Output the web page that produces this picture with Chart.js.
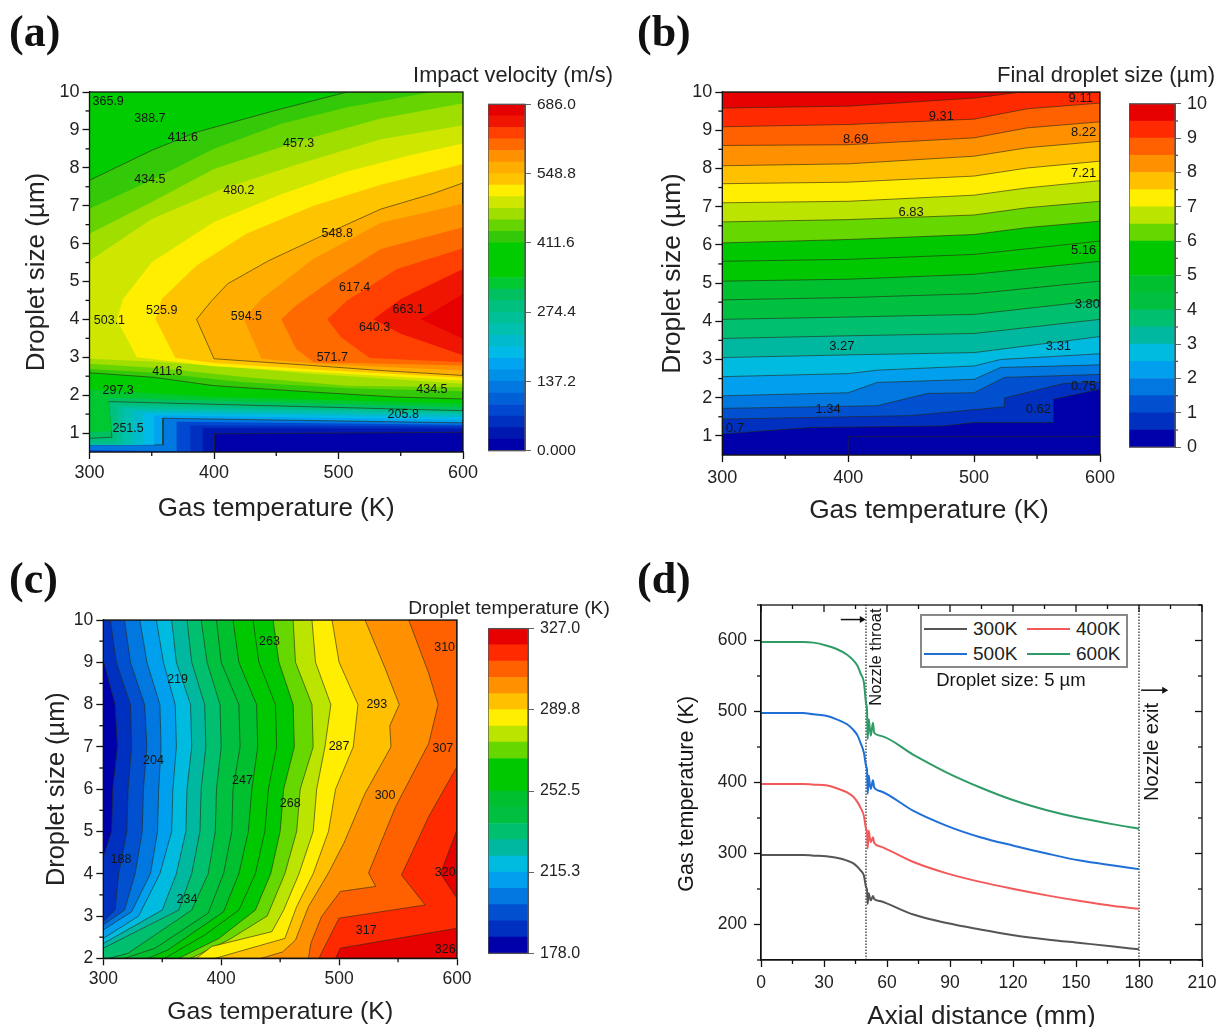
<!DOCTYPE html>
<html>
<head>
<meta charset="utf-8">
<title>Droplet contour maps</title>
<script src="https://cdn.jsdelivr.net/npm/chart.js@4"></script>
<style>
  html, body { margin: 0; background: #fff; overflow: hidden; }
  #page { position: relative; width: 1227px; height: 1027px; overflow: hidden; filter: blur(0.7px); font-family: "Liberation Sans", sans-serif; color: #222; }
  canvas { position: absolute; }
  .tag { position: absolute; font: bold 44px "Liberation Serif", serif; color: #111; line-height: 44px; }
  .cbtitle { position: absolute; white-space: nowrap; transform: translateX(-50%); }
  #legend { position: absolute; left: 920px; top: 614px; width: 204px; height: 50px; border: 2px solid #888; background: #fff;
    display: grid; grid-template-columns: 103px 101px; font-size: 19px; z-index: 2; }
  #legend div { display: flex; align-items: center; gap: 6px; padding-left: 2px; }
  #legend span.key { display: inline-block; width: 43px; height: 2px; }
</style>
</head>
<body>
<div id="page">
  <div class="tag" style="left:9px;top:10px">(a)</div>
  <div class="tag" style="left:637px;top:10px">(b)</div>
  <div class="tag" style="left:9px;top:557px">(c)</div>
  <div class="tag" style="left:637px;top:557px">(d)</div>
  <div class="cbtitle" style="left:513px;top:62px;font-size:21.8px">Impact velocity (m/s)</div>
  <div class="cbtitle" style="left:1106px;top:62px;font-size:22px">Final droplet size (µm)</div>
  <div class="cbtitle" style="left:509px;top:597px;font-size:19.2px">Droplet temperature (K)</div>
  <div class="cbtitle" style="left:929px;top:494px;font-size:26.3px">Gas temperature (K)</div>
  <div id="legend"></div>
</div>
<script>
const FONT = "'Liberation Sans', sans-serif";
const LINE_DARK = "rgba(40,40,20,0.6)";

// ---------- colour bands ----------

const rainbow30 = ["#0000aa", "#0018b0", "#0030c0", "#0048d0", "#0060d8", "#0078e0", "#0090e8", "#00a4f0", "#00bbe8", "#00bbcc",
  "#00c0b0", "#00c098", "#00c080", "#00c060", "#00c830", "#00cc00", "#00cc00", "#00cc00", "#33c808", "#66d400",
  "#a0de00", "#cfe600", "#ffee00", "#ffc400", "#ffae00", "#ff9000", "#ff6a00", "#ff4000", "#f01500", "#e60000"];

const rainbow20 = ["#0000aa", "#0030c0", "#0050d0", "#0078e0", "#00a0ee", "#00bbe0", "#00b8a0", "#00c070", "#00c040", "#00c030",
  "#00c800", "#00c800", "#66d800", "#bbe400", "#ffee00", "#ffc000", "#ff9000", "#ff6000", "#ff2a00", "#e60000"];

const impactLevels = [0, 22.87, 45.73, 68.6, 91.47, 114.3, 137.2, 160.1, 182.9, 205.8, 228.7, 251.5, 274.4, 297.3, 320.1, 343,
  365.9, 388.7, 411.6, 434.5, 457.3, 480.2, 503.1, 525.9, 548.8, 571.7, 594.5, 617.4, 640.3, 663.1, 686];
const sizeLevels = [0, 0.5, 1, 1.5, 2, 2.5, 3, 3.5, 4, 4.5, 5, 5.5, 6, 6.5, 7, 7.5, 8, 8.5, 9, 9.5, 10];
const tempLevels = [178, 185.5, 192.9, 200.4, 207.8, 215.3, 222.7, 230.2, 237.6, 245.1, 252.5, 260, 267.4, 274.9, 282.3, 289.8,
  297.2, 304.7, 312.1, 319.6, 327];

const impactBarTicks = [0, 137.2, 274.4, 411.6, 548.8, 686];
const impactBarLabels = ["0.000", "137.2", "274.4", "411.6", "548.8", "686.0"];
const sizeBarTicks = [0, 1, 2, 3, 4, 5, 6, 7, 8, 9, 10];
const sizeBarLabels = ["0", "1", "2", "3", "4", "5", "6", "7", "8", "9", "10"];
const tempBarTicks = [178, 215.3, 252.5, 289.8, 327];
const tempBarLabels = ["178.0", "215.3", "252.5", "289.8", "327.0"];

// ---------- (a) impact velocity: closed regions above a level ----------

const impactBandIdx = [0, 1, 2, 3, 5, 7, 8, 9, 10, 11, 12, 13, 14, 15, 18, 19, 20, 21, 22, 23, 24, 25, 26, 27, 28, 29];
const impactLined = [1, 7, 13, 18, 24];
const impactRegions = [
  [[300, 0.5], [600, 0.5], [600, 10], [300, 10]],
  [[600, 1.02], [400, 0.98], [400, 0.5], [300, 0.5], [300, 10], [600, 10]],
  [[600, 1.12], [391, 1.13], [391, 0.5], [300, 0.5], [300, 10], [600, 10]],
  [[600, 1.18], [381, 1.2], [381, 0.5], [300, 0.5], [300, 10], [600, 10]],
  [[600, 1.22], [370, 1.3], [370, 0.52], [300, 0.55], [300, 10], [600, 10]],
  [[600, 1.27], [359, 1.39], [359, 0.69], [300, 0.69], [300, 10], [600, 10]],
  [[600, 1.35], [352, 1.47], [352, 0.69], [300, 0.69], [300, 10], [600, 10]],
  [[600, 1.42], [343, 1.52], [343, 0.69], [300, 0.69], [300, 10], [600, 10]],
  [[600, 1.47], [335, 1.58], [335, 0.69], [300, 0.69], [300, 10], [600, 10]],
  [[600, 1.52], [327, 1.65], [327, 0.69], [300, 0.69], [300, 10], [600, 10]],
  [[600, 1.56], [322, 1.72], [322, 0.75], [300, 0.75], [300, 10], [600, 10]],
  [[600, 1.59], [315, 1.83], [318, 0.89], [300, 0.86], [300, 10], [600, 10]],
  [[600, 1.68], [315, 1.93], [318, 1.05], [300, 1.02], [300, 10], [600, 10]],
  [[600, 1.78], [400, 1.95], [300, 2.15], [300, 10], [600, 10]],
  [[300, 7.67], [350, 8.46], [386, 8.94], [450, 9.52], [507, 10], [600, 10], [600, 1.9], [547, 1.95], [480, 2.08], [400, 2.25], [352, 2.47], [300, 2.59]],
  [[300, 6.92], [350, 7.68], [400, 8.5], [454, 9.16], [507, 9.6], [575, 10], [600, 10], [600, 2.1], [507, 2.18], [424, 2.34], [353, 2.59], [300, 2.69]],
  [[300, 6.26], [350, 7.1], [400, 7.97], [468, 8.7], [534, 9.3], [600, 9.7], [600, 2.21], [507, 2.25], [424, 2.48], [358, 2.71], [300, 2.83]],
  [[300, 5.55], [350, 6.65], [407, 7.45], [468, 8.1], [534, 8.75], [600, 9.12], [600, 2.3], [480, 2.56], [400, 2.78], [350, 2.89], [300, 2.96]],
  [[322, 3.99], [327, 4.54], [350, 5.51], [400, 6.57], [454, 7.3], [507, 7.9], [560, 8.35], [600, 8.64], [600, 2.39], [480, 2.61], [400, 2.76], [338, 3.0]],
  [[353, 4.0], [358, 4.54], [386, 5.42], [426, 6.26], [480, 7.0], [534, 7.55], [600, 8.1], [600, 2.46], [480, 2.68], [400, 2.85], [369, 2.98]],
  [[386, 4.0], [397, 4.45], [411, 4.94], [444, 5.55], [487, 6.21], [534, 6.91], [576, 7.32], [600, 7.6], [600, 2.52], [534, 2.65], [480, 2.78], [400, 2.96]],
  [[424, 4.0], [438, 4.54], [480, 5.6], [534, 6.55], [600, 7.05], [600, 2.65], [485, 2.82], [438, 2.96]],
  [[454, 4.0], [466, 4.37], [496, 5.07], [534, 5.86], [600, 6.43], [600, 2.78], [480, 2.87], [466, 3.22]],
  [[491, 4.0], [507, 4.5], [547, 5.33], [600, 5.88], [600, 2.87], [525, 2.98], [502, 3.53]],
  [[528, 4.0], [550, 4.54], [600, 5.33], [600, 3.05], [550, 3.62]],
  [[566, 4.0], [600, 4.67], [600, 3.49]],
];
const impactLabels = [[315, 9.74, "365.9"], [348.5, 9.3, "388.7"], [375, 8.81, "411.6"], [468, 8.64, "457.3"], [348.5, 7.68, "434.5"],
  [420, 7.4, "480.2"], [499, 6.26, "548.8"], [513, 4.85, "617.4"], [556, 4.26, "663.1"], [358, 4.22, "525.9"], [426, 4.08, "594.5"],
  [316, 3.97, "503.1"], [529, 3.78, "640.3"], [495, 2.98, "571.7"], [362.5, 2.61, "411.6"], [575, 2.15, "434.5"], [323, 2.12, "297.3"],
  [552, 1.48, "205.8"], [331, 1.11, "251.5"]];

// ---------- (b) final droplet size: contour lines, band index 1..19 ----------

const sizeLines = [
  [[300, 1.05], [370, 1.22], [476, 1.26], [500, 1.35], [563, 1.35], [563, 1.96], [600, 2.22]],
  [[300, 1.44], [449, 1.53], [524, 1.76], [524, 1.99], [571, 2.37], [600, 2.4]],
  [[300, 1.72], [423, 1.79], [463, 2.11], [500, 2.13], [524, 2.53], [600, 2.61]],
  [[300, 2.05], [400, 2.13], [423, 2.4], [500, 2.48], [521, 2.79], [600, 2.86]],
  [[300, 2.55], [400, 2.63], [423, 2.72], [500, 2.83], [521, 3.0], [600, 3.15]],
  [[300, 3.05], [400, 3.12], [500, 3.18], [600, 3.6]],
  [[300, 3.55], [400, 3.62], [500, 3.68], [600, 4.05]],
  [[300, 4.05], [400, 4.11], [500, 4.18], [600, 4.55]],
  [[300, 4.56], [400, 4.62], [500, 4.72], [600, 5.05]],
  [[300, 5.05], [400, 5.1], [500, 5.23], [600, 5.57]],
  [[300, 5.57], [400, 5.62], [500, 5.75], [600, 6.1]],
  [[300, 6.05], [400, 6.14], [500, 6.27], [542, 6.45], [600, 6.62]],
  [[300, 6.6], [400, 6.66], [500, 6.78], [542, 6.97], [600, 7.14]],
  [[300, 7.1], [400, 7.14], [500, 7.3], [542, 7.49], [600, 7.68]],
  [[300, 7.6], [400, 7.64], [500, 7.8], [542, 8.01], [600, 8.19]],
  [[300, 8.07], [400, 8.12], [500, 8.32], [542, 8.54], [600, 8.71]],
  [[300, 8.6], [400, 8.62], [500, 8.8], [542, 9.06], [600, 9.22]],
  [[300, 9.09], [400, 9.15], [500, 9.29], [542, 9.56], [600, 9.71]],
  [[300, 9.58], [400, 9.63], [500, 9.84], [537, 10]],
];
const sizeInnerLine = [[400, 0.5], [400, 0.98], [600, 0.98]];
const sizeLabels = [[584.7, 9.83, "9.11"], [474, 9.36, "9.31"], [406, 8.77, "8.69"], [587, 8.93, "8.22"], [587, 7.88, "7.21"], [450, 6.84, "6.83"],
  [587, 5.85, "5.16"], [590, 4.44, "3.80"], [395, 3.35, "3.27"], [567, 3.33, "3.31"], [587, 2.29, "0.75"], [384, 1.7, "1.34"],
  [551, 1.68, "0.62"], [310, 1.2, "0.7"]];

// ---------- (c) droplet temperature: contour lines top to bottom, band index 1..19 ----------

const tempLines = [
  [[300, 9.05], [310, 8], [312, 7], [308, 6], [307, 5], [300, 4.4]],
  [[306, 10], [311, 9], [323, 8], [324, 7], [321, 6], [320, 5], [313, 4], [310, 3.14], [300, 2.87]],
  [[318, 10], [323, 9], [335, 8], [337, 7], [334, 6], [333, 5], [327, 4], [318, 3.14], [300, 2.79]],
  [[331, 10], [337, 9], [348, 8], [349, 7], [347, 6], [346, 5], [340, 4], [324, 3.1], [300, 2.67]],
  [[345, 10], [351, 9], [361, 8], [362, 7], [359, 6], [358, 5], [348, 4], [330, 3], [300, 2.47]],
  [[358, 10], [362, 9], [374, 8], [375, 7], [371, 6], [370, 5], [362, 4], [350, 3.14], [300, 2.35]],
  [[371, 10], [375, 9], [386, 8], [387, 7], [383, 6], [382, 5], [375, 4], [364, 3.14], [300, 2.24]],
  [[383, 10], [388, 9], [399, 8], [400, 7], [396, 6], [395, 5], [389, 4], [375, 3.14], [321, 2.12], [305, 2]],
  [[396, 10], [400, 9], [415, 8], [416, 7], [410, 6], [409, 5], [402, 4], [389, 3.07], [344, 2.24], [318, 2]],
  [[410, 10], [415, 9], [430, 8], [431, 7], [426, 6], [423, 5], [415, 4], [402, 3.1], [355, 2.2], [338, 2]],
  [[427, 10], [432, 9], [446, 8], [447, 7], [440, 6], [437, 5], [429, 4], [415, 3.14], [386, 2.55], [352, 2]],
  [[444, 10], [449, 9], [461, 8], [462, 7], [453, 6], [450, 5], [442, 4], [429, 3.14], [398, 2.47], [364, 2]],
  [[461, 10], [463, 9], [477, 8], [478, 7], [467, 6], [464, 5], [454, 4], [439, 3], [406, 2.43], [374, 2]],
  [[477, 10], [480, 9], [493, 8], [488, 7], [481, 6], [478, 5], [466, 4], [453, 3.14], [443, 2.63], [392, 2.28], [379, 2]],
  [[494, 10], [500, 9], [516, 8], [512, 7], [497, 6], [491, 5], [478, 4], [464, 3.22], [454, 2.47], [420, 2.2], [395, 2]],
  [[522, 10], [539, 8.86], [551, 8], [543, 7.5], [544, 7], [522, 5.9], [504, 4.72], [491, 4.02], [474, 3.22], [463, 2.43], [452, 2.15], [434, 2]],
  [[559, 10], [576, 8.74], [584, 8], [576, 7.08], [548, 5.59], [525, 4.02], [531, 3.7], [501, 3.58], [485, 2.98], [476, 2.35], [474, 2]],
  [[600, 6.53], [576, 5.35], [553, 3.97], [573, 3.26], [500, 2.95], [485, 2.12], [483, 2]],
  [[600, 5.04], [586, 4], [600, 3.42]],
];
const tempHotCorner = [[600, 2.71], [501, 2.24], [497, 2]];
const tempLabels = [[441, 9.49, "263"], [589.5, 9.35, "310"], [363, 8.6, "219"], [532, 7.99, "293"], [500, 7, "287"], [588, 6.97, "307"],
  [342.5, 6.67, "204"], [418, 6.2, "247"], [539, 5.86, "300"], [458.5, 5.67, "268"], [315, 4.34, "188"], [590, 4.03, "320"],
  [371, 3.4, "234"], [523, 2.65, "317"], [590, 2.21, "326"]];

// ---------- (d) gas temperature along the nozzle ----------

const axialMm = [0, 20, 25, 31, 36, 41, 44, 46, 47.5, 49, 50, 50.5, 50.8, 51.3, 51.8, 52.3, 53.3, 53.9, 56.7, 72.6, 88.5, 104.4, 120.3, 136.1, 152, 167.9, 180];
const gas300K = [298, 298, 297, 296, 294, 290, 286, 281, 276, 269, 253, 248, 229, 244, 238, 234, 240, 236, 233, 214, 202, 193, 185, 179, 174, 169, 165];
const gas400K = [398, 398, 397, 396, 392, 386, 380, 372, 364, 353, 335, 330, 307, 332, 322, 316, 323, 315, 310, 288, 272, 260, 250, 241, 233, 226, 222];
const gas500K = [498, 498, 496, 494, 489, 482, 474, 466, 455, 442, 424, 417, 384, 410, 398, 391, 403, 393, 388, 360, 339, 323, 311, 300, 290, 283, 278];
const gas600K = [598, 598, 597, 593, 588, 580, 572, 564, 553, 541, 512, 501, 461, 489, 477, 466, 484, 470, 466, 439, 414, 393, 375, 361, 350, 341, 335];
const seriesNames = ["300K", "400K", "500K", "600K"];
const seriesColors = ["#555555", "#f25a5a", "#1f6fd6", "#2f9c68"];

const tempAxisMajor = [300, 400, 500, 600];
const tempAxisMinor = [350, 450, 550];
const sizeAxisMajor = [1, 2, 3, 4, 5, 6, 7, 8, 9, 10];
const sizeAxisMinor = [0.5, 1.5, 2.5, 3.5, 4.5, 5.5, 6.5, 7.5, 8.5, 9.5];
const tempCMajor = [2, 3, 4, 5, 6, 7, 8, 9, 10];
const tempCMinor = [2.5, 3.5, 4.5, 5.5, 6.5, 7.5, 8.5, 9.5];
const axialMajor = [0, 30, 60, 90, 120, 150, 180, 210];
const axialMinor = [15, 45, 75, 105, 135, 165, 195];
const gasMajor = [200, 300, 400, 500, 600];
const gasMinor = [150, 250, 350, 450, 550, 650];

// ---------- plugins ----------

function framePlugin(minorX, minorY, mirror, color) {
  return {
    id: "frame",
    afterDatasetsDraw(chart) {
      const { ctx, chartArea: a, scales } = chart;
      ctx.save();
      ctx.strokeStyle = color || "#111";
      ctx.lineWidth = 1.3;
      ctx.strokeRect(a.left, a.top, a.right - a.left, a.bottom - a.top);
      const tick = (x1, y1, x2, y2) => { ctx.beginPath(); ctx.moveTo(x1, y1); ctx.lineTo(x2, y2); ctx.stroke(); };
      for (const v of minorX || []) {
        const x = scales.x.getPixelForValue(v);
        tick(x, a.bottom, x, a.bottom + 4);
        if (mirror) tick(x, a.top, x, a.top + 4);
      }
      const y2 = scales.y;
      for (const v of minorY || []) {
        const y = y2.getPixelForValue(v);
        if (y2.position === "left") tick(a.left, y, a.left - 4, y);
        else tick(a.right, y, a.right + 3, y);
        if (mirror) tick(a.right, y, a.right - 4, y);
      }
      if (mirror) {
        for (const t of scales.x.ticks) { const x = scales.x.getPixelForValue(t.value); tick(x, a.top, x, a.top + 7); }
        for (const t of y2.ticks) { const y = y2.getPixelForValue(t.value); tick(a.right, y, a.right - 7, y); }
      }
      ctx.restore();
    },
  };
}

// items: [x, y, text, size, rotated]
function textPlugin(items, size) {
  return {
    id: "onPlotText",
    afterDatasetsDraw(chart) {
      const { ctx, scales } = chart;
      ctx.save();
      ctx.textAlign = "center";
      ctx.textBaseline = "middle";
      ctx.fillStyle = "#151515";
      for (const [x, y, text, sz, rot] of items) {
        ctx.save();
        ctx.translate(scales.x.getPixelForValue(x), scales.y.getPixelForValue(y));
        if (rot) ctx.rotate(-Math.PI / 2);
        ctx.font = `${sz || size}px ${FONT}`;
        ctx.fillText(text, 0, 0);
        ctx.restore();
      }
      ctx.restore();
    },
  };
}

// ---------- builders ----------

function region(pts, color, lined) {
  return {
    data: [...pts, pts[0]],
    showLine: true,
    fill: "shape",
    backgroundColor: color,
    borderColor: lined ? LINE_DARK : "transparent",
    borderWidth: lined ? 1 : 0,
    pointRadius: 0,
    tension: 0,
  };
}

function axis(position, min, max, major, title, titleSize, tickSize, thickness, tickPad) {
  return {
    type: "linear",
    position,
    min,
    max,
    afterBuildTicks: (s) => { s.ticks = major.map((value) => ({ value })); },
    afterFit: (s) => { if (position === "bottom") s.height = thickness; else s.width = thickness; },
    ticks: { font: { size: tickSize, family: FONT }, color: "#222", padding: tickPad || 3, maxRotation: 0, autoSkip: false },
    grid: { drawOnChartArea: false, tickLength: 7, tickColor: "#111", tickWidth: 1.3 },
    border: { color: "#111", width: 1.3 },
    title: { display: !!title, text: title, font: { size: titleSize, family: FONT }, color: "#222", padding: 0 },
  };
}

function addCanvas(left, top, width, height) {
  const c = document.createElement("canvas");
  c.width = width;
  c.height = height;
  c.style.cssText = `left:${left}px;top:${top}px;width:${width}px;height:${height}px`;
  document.getElementById("page").appendChild(c);
  return c;
}

function plotChart(box, datasets, xAxis, yAxis, plugins) {
  const yw = box.L - box.canvasLeft;
  const xh = box.canvasBottom - box.B;
  const padTop = 20;
  const padRight = 25;
  const c = addCanvas(box.canvasLeft, box.T - padTop, Math.ceil(box.R - box.canvasLeft + padRight), Math.ceil(box.canvasBottom - box.T + padTop));
  return new Chart(c, {
    type: "scatter",
    data: { datasets },
    options: {
      responsive: false,
      animation: false,
      layout: { padding: { top: padTop, right: padRight, left: 0, bottom: 0 } },
      plugins: { legend: { display: false }, tooltip: { enabled: false } },
      scales: { x: axis("bottom", ...xAxis, xh, box.xPad), y: axis("left", ...yAxis, yw, box.yPad) },
    },
    plugins,
  });
}

function colorBar(box, levels, colors, major, tickLabels, minor, tickSize) {
  const padY = 14;
  const w = 95;
  const c = addCanvas(box.L, box.T - padY, Math.round(box.R - box.L + w), Math.round(box.B - box.T + 2 * padY));
  return new Chart(c, {
    type: "bar",
    data: {
      labels: [""],
      datasets: colors.map((color, i) => ({
        data: [[levels[i], levels[i + 1]]],
        backgroundColor: color,
        barPercentage: 1,
        categoryPercentage: 1,
        grouped: false,
      })),
    },
    options: {
      responsive: false,
      animation: false,
      layout: { padding: { top: padY, bottom: padY, left: 0, right: 0 } },
      plugins: { legend: { display: false }, tooltip: { enabled: false } },
      scales: {
        x: { display: false },
        y: {
          position: "right",
          min: levels[0],
          max: levels[levels.length - 1],
          afterBuildTicks: (s) => { s.ticks = major.map((value) => ({ value })); },
          afterFit: (s) => { s.width = w; },
          ticks: {
            font: { size: tickSize, family: FONT },
            color: "#222",
            padding: 6,
            autoSkip: false,
            callback: (v) => tickLabels[major.indexOf(v)],
          },
          grid: { drawOnChartArea: false, tickLength: 6, tickColor: "#666", tickWidth: 1 },
          border: { color: "#555", width: 1 },
        },
      },
    },
    plugins: [framePlugin(null, minor, false, "#555")],
  });
}

// ---------- charts ----------

// (a)
plotChart(
  { L: 89.5, R: 463, T: 92, B: 452, canvasLeft: 21, canvasBottom: 524 },
  impactRegions.map((pts, i) => region(pts, rainbow30[impactBandIdx[i]], impactLined.includes(impactBandIdx[i]))).reverse(),
  [300, 600, tempAxisMajor, "Gas temperature (K)", 26, 18],
  [0.5, 10, sizeAxisMajor, "Droplet size (µm)", 26, 18],
  [framePlugin(tempAxisMinor, sizeAxisMinor.slice(1)), textPlugin(impactLabels, 12.5)]
);
colorBar({ L: 488, R: 525, T: 102.7, B: 451.7 }, impactLevels, rainbow30, impactBarTicks, impactBarLabels, null, 15.5);

// (b), its x title is a page label because it sits off the axis centre
const sizeRegions = sizeLines.map((pts, i) => region([...pts, [600, 10], [300, 10]], rainbow20[i + 1], true));
const sizeBase = region([[300, 0.5], [600, 0.5], [600, 10], [300, 10]], rainbow20[0], false);
const sizeInner = { data: sizeInnerLine, showLine: true, fill: false, borderColor: LINE_DARK, borderWidth: 1, pointRadius: 0 };
plotChart(
  { L: 722.3, R: 1099.3, T: 92.3, B: 455, canvasLeft: 657, canvasBottom: 526, xPad: 5 },
  [sizeInner, ...[sizeBase, ...sizeRegions].reverse()],
  [300, 600, tempAxisMajor, "", 26.3, 18],
  [0.5, 10, sizeAxisMajor, "Droplet size (µm)", 26.3, 18],
  [framePlugin(tempAxisMinor, sizeAxisMinor.slice(1)), textPlugin(sizeLabels, 13)]
);
colorBar({ L: 1129, R: 1175.3, T: 100.7, B: 450 }, sizeLevels, rainbow20, sizeBarTicks, sizeBarLabels, sizeAxisMinor, 18);

// (c)
const closeRight = (pts) => {
  const first = pts[0];
  const last = pts[pts.length - 1];
  return [...pts, [last[0], 2], [600, 2], [600, 10], [first[0], 10]];
};
const tempRegions = tempLines.map((pts, i) => region(closeRight(pts), rainbow20[i + 1], true));
tempRegions.push(region(closeRight(tempHotCorner), rainbow20[19], true));
const tempBase = region([[300, 2], [600, 2], [600, 10], [300, 10]], rainbow20[0], false);
plotChart(
  { L: 103.3, R: 456.7, T: 620, B: 958.3, canvasLeft: 42, canvasBottom: 1027 },
  [tempBase, ...tempRegions].reverse(),
  [300, 600, tempAxisMajor, "Gas temperature (K)", 24.8, 17.5],
  [2, 10, tempCMajor, "Droplet size (µm)", 25.4, 17.5],
  [framePlugin(tempAxisMinor, tempCMinor), textPlugin(tempLabels, 12.5)]
);
colorBar({ L: 488.3, R: 528, T: 626.7, B: 955 }, tempLevels, rainbow20, tempBarTicks, tempBarLabels, null, 16);

// (d)
const gasSeries = [gas300K, gas400K, gas500K, gas600K].map((vals, i) => ({
  data: axialMm.map((x, j) => ({ x, y: vals[j] })),
  showLine: true,
  borderColor: seriesColors[i],
  borderWidth: 2,
  pointRadius: 0,
  cubicInterpolationMode: "monotone",
}));
const marker = (x) => ({
  data: [[x, 150], [x, 650]],
  showLine: true,
  borderColor: "#333",
  borderWidth: 1.3,
  borderDash: [1.5, 1.5],
  pointRadius: 0,
});
const arrow = (x1, x2, y) => ({
  data: [[x1, y], [x2, y]],
  showLine: true,
  borderColor: "#111",
  backgroundColor: "#111",
  borderWidth: 1.5,
  pointStyle: "triangle",
  rotation: 90,
  pointRadius: [0, 4],
  pointBorderWidth: 0,
});
plotChart(
  { L: 761, R: 1201.7, T: 605, B: 960, canvasLeft: 672, canvasBottom: 1032, xPad: 6, yPad: 7 },
  [...gasSeries, marker(50), marker(180), arrow(38, 48, 629.5), arrow(181, 192, 530)],
  [0, 210, axialMajor, "Axial distance (mm)", 26, 17.5],
  [150, 650, gasMajor, "", 21.5, 17.5],
  [
    framePlugin(axialMinor, gasMinor, true),
    textPlugin([
      [-35.3, 384, "Gas temperature (K)", 21.5, true],
      [55.2, 576.6, "Nozzle throat", 16.5, true],
      [186.3, 443, "Nozzle exit", 20, true],
      [119, 543, "Droplet size: 5 µm", 18.5, false],
    ], 18),
  ]
);

const legendEl = document.getElementById("legend");
seriesNames.forEach((name, i) => {
  const d = document.createElement("div");
  d.innerHTML = `<span class="key" style="background:${seriesColors[i]}"></span>${name}`;
  legendEl.appendChild(d);
});
</script>
</body>
</html>
